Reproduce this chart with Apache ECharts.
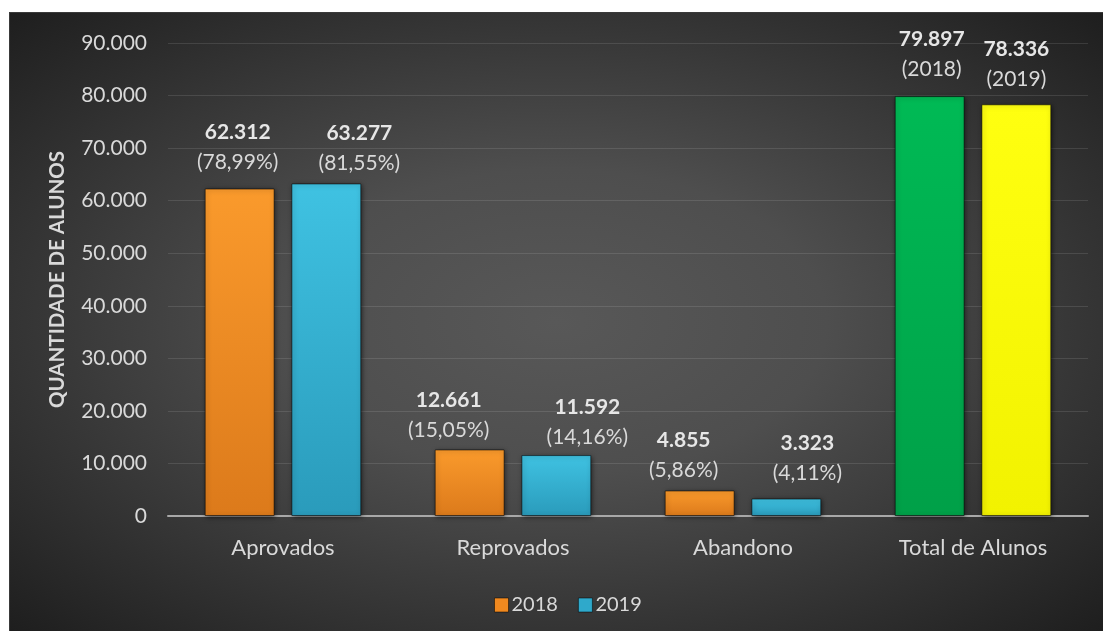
<!DOCTYPE html>
<html>
<head>
<meta charset="utf-8">
<script src="https://cdn.jsdelivr.net/npm/echarts@6/dist/echarts.min.js"></script>
<style>
  html, body { margin: 0; padding: 0; background: #ffffff; width: 1103px; height: 631px; overflow: hidden; }
  #chart {
    position: absolute; left: 9px; top: 12px; width: 1094px; height: 619px;
    background: radial-gradient(ellipse at 50% 50%, #585858 0%, #4e4e4e 35%, #1e1e1e 100%);
    border-left: 1px solid #3a3a3a; border-top: 1px solid #3a3a3a; box-sizing: border-box;
  }
</style>
</head>
<body>
<div id="chart"></div>
<script>
// ---- data ----
var categories = ['Aprovados', 'Reprovados', 'Abandono', 'Total de Alunos'];
var values2018 = [62312, 12661, 4855, 79897];
var values2019 = [63277, 11592, 3323, 78336];
var sub2018 = ['78,99%', '15,05%', '5,86%', '2018'];
var sub2019 = ['81,55%', '14,16%', '4,11%', '2019'];
var seriesNames = ['2018', '2019'];
var yTicks = [0, 10000, 20000, 30000, 40000, 50000, 60000, 70000, 80000, 90000];
var yAxisName = 'QUANTIDADE DE ALUNOS';

// ---- styling ----
var FONT = 'Lato, "Open Sans", sans-serif';
function fmt(v) { return String(v).replace(/\B(?=(\d{3})+(?!\d))/g, '.'); }
function vgrad(a, b) {
  return new echarts.graphic.LinearGradient(0, 0, 0, 1, [{offset: 0, color: a}, {offset: 1, color: b}]);
}
var baseColors = [vgrad('#FA9A2C', '#DC7A1B'), vgrad('#3FC2E2', '#2A9BBB')];
var totalColors = [vgrad('#00BA55', '#00A048'), vgrad('#FFFF10', '#F2F200')];
var legendColors = ['#F0891F', '#2FA9CB'];
// manual label nudges (as in the original figure)
var labelShift = [
  [[-2, -4], [-21, 3], [-16, 2], [2, -5]],
  [[33, 2], [31, 4], [21, -3], [0, -3]]
];

function buildSeries(idx, vals, subs) {
  return {
    name: seriesNames[idx],
    type: 'bar',
    barWidth: '30.4%',
    barGap: '24%',
    itemStyle: {
      color: baseColors[idx],
      borderColor: 'rgba(0,0,0,0.55)',
      borderWidth: 1,
      shadowColor: 'rgba(0,0,0,0.6)',
      shadowBlur: 5,
      shadowOffsetX: 1,
      shadowOffsetY: 1
    },
    label: {
      show: true,
      position: 'top',
      distance: 7,
      fontFamily: FONT,
      rich: {
        v: { fontFamily: FONT, fontWeight: 'bold', fontSize: 21, lineHeight: 30, color: '#e6e6e6', align: 'center' },
        p: { fontFamily: FONT, fontSize: 21, lineHeight: 30, color: '#d9d9d9', align: 'center' }
      }
    },
    data: vals.map(function (v, i) {
      var item = {
        value: v,
        label: {
          offset: labelShift[idx][i],
          formatter: '{v|' + fmt(v) + '}\n{p|(' + subs[i] + ')}'
        }
      };
      if (i === categories.length - 1) {
        item.itemStyle = { color: totalColors[idx] };
      }
      return item;
    })
  };
}

var chart = echarts.init(document.getElementById('chart'), null, { renderer: 'canvas' });
chart.setOption({
  backgroundColor: 'transparent',
  animation: false,
  textStyle: { fontFamily: FONT },
  grid: { left: 158, right: 15, top: 30, bottom: 115, containLabel: false },
  legend: {
    data: seriesNames.map(function (n, i) {
      return { name: n, icon: 'rect', itemStyle: { color: legendColors[i], borderColor: 'rgba(0,0,0,0.5)', borderWidth: 1 } };
    }),
    left: 479,
    top: 577,
    itemWidth: 14,
    itemHeight: 14,
    itemGap: 20,
    textStyle: { color: '#d9d9d9', fontSize: 20, fontFamily: FONT, padding: [0, 0, 0, -2] }
  },
  xAxis: {
    type: 'category',
    data: categories,
    axisLine: { show: true, lineStyle: { color: '#a8a8a8', width: 2 } },
    axisTick: { show: false },
    axisLabel: { color: '#d9d9d9', fontSize: 22, fontFamily: FONT, margin: 21 }
  },
  yAxis: {
    type: 'value',
    min: yTicks[0],
    max: yTicks[yTicks.length - 1],
    interval: yTicks[1] - yTicks[0],
    name: yAxisName,
    nameLocation: 'middle',
    nameGap: 100,
    nameRotate: 90,
    nameTextStyle: { color: '#d9d9d9', fontSize: 20.5, fontWeight: 'bold', fontFamily: FONT },
    axisLine: { show: false },
    axisTick: { show: false },
    axisLabel: { color: '#d9d9d9', fontSize: 21, fontFamily: FONT, margin: 21, formatter: function (v) { return fmt(v); } },
    splitLine: { lineStyle: { color: 'rgba(255,255,255,0.11)', width: 1 } }
  },
  series: [buildSeries(0, values2018, sub2018), buildSeries(1, values2019, sub2019)]
});
</script>
</body>
</html>
